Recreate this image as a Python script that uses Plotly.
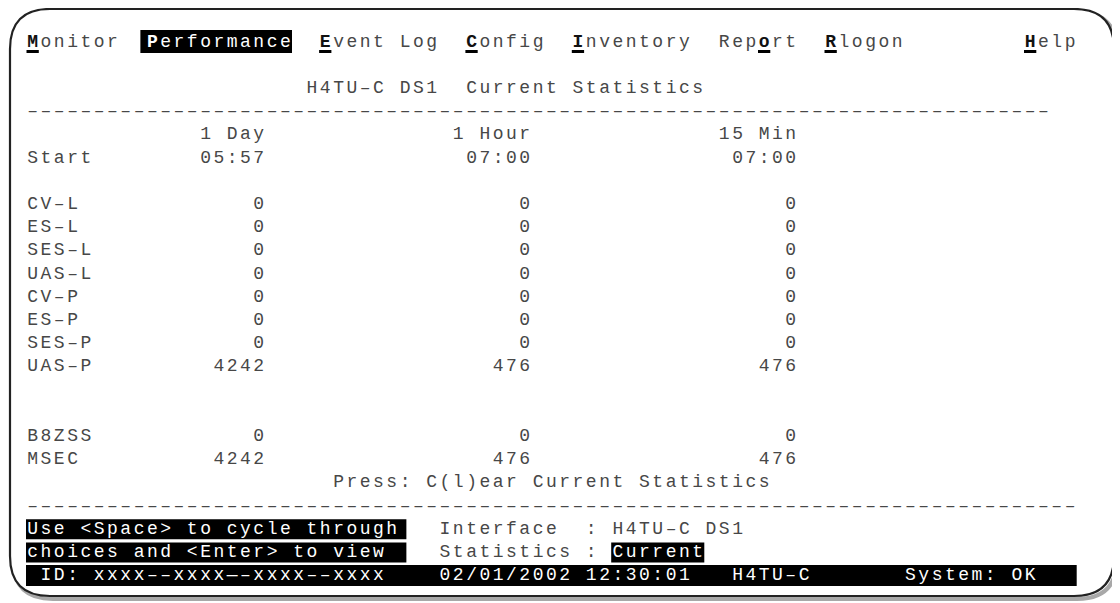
import plotly.graph_objects as go

# ---------------- data (screen content) ----------------
menu_items = ["Monitor", "Performance", "Event Log", "Config", "Inventory", "Report", "Rlogon"]
menu_hotkey = [0, 0, 0, 0, 0, 3, 0]
help_item = "Help"
title = "H4TU-C DS1  Current Statistics"
periods = ["1 Day", "1 Hour", "15 Min"]
start_label = "Start"
start_times = ["05:57", "07:00", "07:00"]
labels = ["CV-L", "ES-L", "SES-L", "UAS-L", "CV-P", "ES-P", "SES-P", "UAS-P"]
day_vals = [0, 0, 0, 0, 0, 0, 0, 4242]
hour_vals = [0, 0, 0, 0, 0, 0, 0, 476]
min15_vals = [0, 0, 0, 0, 0, 0, 0, 476]
extra_labels = ["B8ZSS", "MSEC"]
extra_day = [0, 4242]
extra_hour = [0, 476]
extra_min15 = [0, 476]
press_text = "Press: C(l)ear Current Statistics"
help_lines = ["Use <Space> to cycle through", "choices and <Enter> to view"]
iface_label = "Interface  : "
iface_value = "H4TU-C DS1"
stats_label = "Statistics : "
stats_value = "Current"
status_id = "ID: xxxx--xxxx\u2014-xxxx--xxxx"
status_date = "02/01/2002 12:30:01"
status_unit = "H4TU-C"
status_sys = "System: OK"

# ---------------- layout of the character grid (page pixel units) ----------------
W, H = 1120, 603
PAGE_OFF = 8             # default body margin of the html page
X0, CW = 26.0, 13.3      # left edge of column 0, column pitch
Y0, RH = 42.0, 23.2      # centre of row 0, row pitch
FONT = "Liberation Mono"
FS = 18
INK = "#474747"

def cx(col):
    return X0 + CW * (col + 0.5)

def ry(row):
    return Y0 + RH * row

chars = {"normal": [], "white": [], "bold": [], "boldwhite": []}
shapes = []

def put(text, col, row, style="normal"):
    for i, ch in enumerate(text):
        if ch == " ":
            continue
        if ch == "-":
            ch = "\u2013"
        chars[style].append((cx(col + i), ry(row), ch))

def box(c0, c1, row, top=12, bot=11):
    shapes.append(dict(type="rect", xref="x", yref="y",
                       x0=X0 + CW * c0, x1=X0 + CW * c1,
                       y0=ry(row) - top, y1=ry(row) + bot,
                       fillcolor="black", line=dict(width=0), layer="below"))

def underline(col, row):
    shapes.append(dict(type="rect", xref="x", yref="y",
                       x0=X0 + CW * col + 0.5, x1=X0 + CW * (col + 1) - 0.5,
                       y0=ry(row) + 8, y1=ry(row) + 11,
                       fillcolor="black", line=dict(width=0), layer="above"))

def row_line(label, a, b, c):
    return f"{label:<8}{a:>10}{b:>20}{c:>20}"

# row 0: menu
col = 0
for k, (item, hk) in enumerate(zip(menu_items, menu_hotkey)):
    highlighted = (k == 1)
    if highlighted:
        box(col - 0.4, col + len(item), 0)
    for i, ch in enumerate(item):
        if i == hk:
            put(ch, col + i, 0, "boldwhite" if highlighted else "bold")
            if not highlighted:
                underline(col + i, 0)
        else:
            put(ch, col + i, 0, "white" if highlighted else "normal")
    col += len(item) + 2
help_col = 75
put(help_item[0], help_col, 0, "bold")
underline(help_col, 0)
put(help_item[1:], help_col + 1, 0)

# row 2: title, row 3: rule
put(title, 21, 2)
put("-" * 77, 0, 3)

# rows 4-5: periods and start times
put(row_line("", *periods), 0, 4)
put(row_line(start_label, *start_times), 0, 5)

# rows 7-14: counters
for r, vals in enumerate(zip(labels, day_vals, hour_vals, min15_vals)):
    put(row_line(*vals), 0, 7 + r)

# rows 17-18
for r, vals in enumerate(zip(extra_labels, extra_day, extra_hour, extra_min15)):
    put(row_line(*vals), 0, 17 + r)

# row 19, 20
put(press_text, 23, 19)
put("-" * 79, 0, 20)

# rows 21-22: help boxes and interface info
for r, line in enumerate(help_lines):
    box(0, 28.6, 21 + r, top=10, bot=10)
    put(line, 0, 21 + r, "white")
put(iface_label + iface_value, 31, 21)
put(stats_label, 31, 22)
box(31 + len(stats_label), 31 + len(stats_label) + len(stats_value), 22, top=10, bot=10)
put(stats_value, 31 + len(stats_label), 22, "white")

# row 23: status bar
box(0, 79, 23, top=10.5, bot=10.5)
put(status_id, 1, 23, "white")
put(status_date, 31, 23, "white")
put(status_unit, 53, 23, "white")
put(status_sys, 66, 23, "white")

# ---------------- frame ----------------
R = 40
def frame_path(x0, y0, x1, y1, r):
    return (f"M {x0+r},{y0} L {x1-r},{y0} Q {x1},{y0} {x1},{y0+r} "
            f"L {x1},{y1-r} Q {x1},{y1} {x1-r},{y1} L {x0+r},{y1} "
            f"Q {x0},{y1} {x0},{y1-r} L {x0},{y0+r} Q {x0},{y0} {x0+r},{y0} Z")

frame_shapes = [
    dict(type="path", xref="x", yref="y", path=frame_path(13, 12, 1117, 599, R),
         line=dict(color="#a8a8a8", width=4), layer="below"),
    dict(type="path", xref="x", yref="y", path=frame_path(10, 9, 1114, 596, R),
         fillcolor="white", line=dict(color="#222222", width=2.2), layer="below"),
]

fig = go.Figure()
styles = {
    "normal": dict(color=INK, weight="normal"),
    "white": dict(color="white", weight="normal"),
    "bold": dict(color="#111111", weight="bold"),
    "boldwhite": dict(color="white", weight="bold"),
}
for name, pts in chars.items():
    if not pts:
        continue
    fig.add_trace(go.Scatter(
        x=[p[0] for p in pts], y=[p[1] for p in pts], text=[p[2] for p in pts],
        mode="text", textposition="middle center",
        textfont=dict(family=FONT, size=FS, color=styles[name]["color"],
                      weight=styles[name]["weight"]),
        hoverinfo="skip", showlegend=False, cliponaxis=False))

fig.update_layout(
    width=W, height=H, margin=dict(l=0, r=0, t=0, b=0),
    paper_bgcolor="white", plot_bgcolor="rgba(0,0,0,0)",
    xaxis=dict(range=[PAGE_OFF, W + PAGE_OFF], visible=False, fixedrange=True),
    yaxis=dict(range=[H + PAGE_OFF, PAGE_OFF], visible=False, fixedrange=True),
    shapes=frame_shapes + shapes,
    showlegend=False,
)
fig.write_html("out.html")
